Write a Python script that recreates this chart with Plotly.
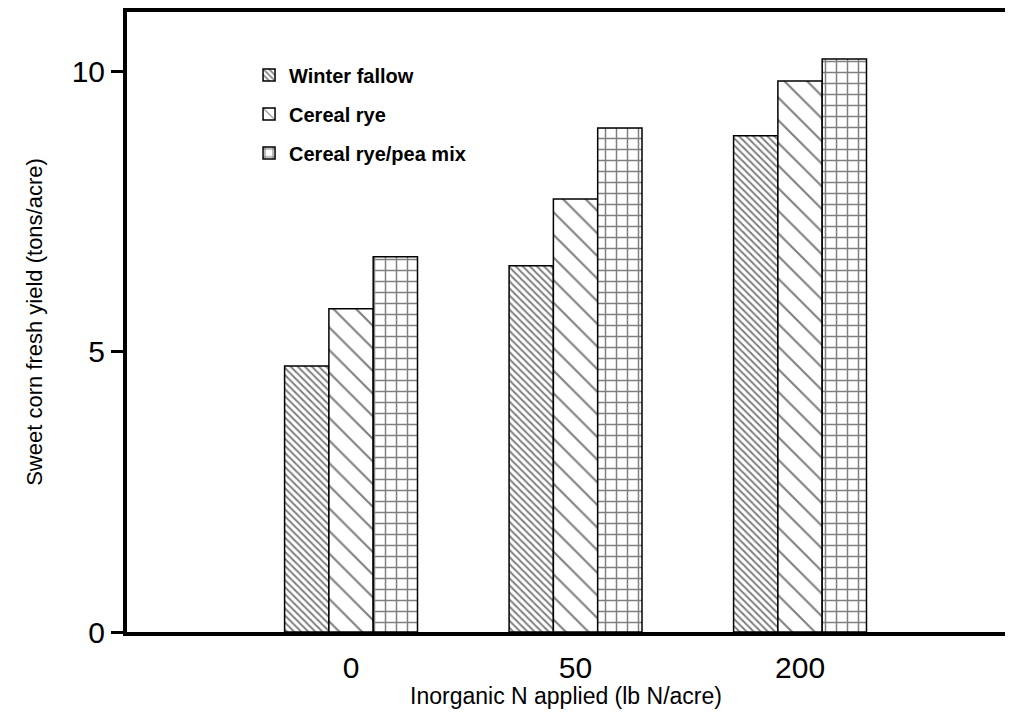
import plotly.graph_objects as go

categories = ["0", "50", "200"]
series_names = ["Winter fallow", "Cereal rye", "Cereal rye/pea mix"]
winter_fallow = [4.75, 6.54, 8.86]
cereal_rye = [5.77, 7.73, 9.84]
rye_pea_mix = [6.70, 9.00, 10.23]
y_ticks = [0, 5, 10]

values = [winter_fallow, cereal_rye, rye_pea_mix]
patterns = [dict(shape="\\", size=5, solidity=0.4),
            dict(shape="\\", size=16, solidity=0.13),
            dict(shape="+", size=11, solidity=0.25)]

fig = go.Figure()
for i, (name, vals, pat) in enumerate(zip(series_names, values, patterns)):
    fig.add_trace(go.Bar(
        x=categories, y=vals, name=name, legendgroup=f"g{i}",
        marker=dict(color="white", line=dict(color="black", width=1.5),
                    pattern=dict(shape=pat["shape"], size=pat["size"], solidity=pat["solidity"],
                                 fgcolor="black", bgcolor="white", fillmode="overlay")),
    ))

font_family = "Liberation Sans, Arial, sans-serif"
fig.update_layout(
    width=997, height=701,
    margin=dict(l=119, r=0, t=4, b=77),
    paper_bgcolor="white", plot_bgcolor="white",
    barmode="group", bargap=0.408, bargroupgap=0,
    font=dict(family=font_family, color="black"),
    showlegend=True,
    legend=dict(x=0.139, y=0.93, xanchor="left", yanchor="top",
                font=dict(size=20, family=font_family, weight="bold"),
                tracegroupgap=10, bgcolor="rgba(0,0,0,0)"),
    xaxis=dict(type="category", range=[-0.998, 2.913], showgrid=False,
               showline=True, linewidth=4, linecolor="black", mirror=True,
               ticks="", tickfont=dict(size=30), ticklabelstandoff=6,
               title=dict(text="Inorganic N applied (lb N/acre)", font=dict(size=23), standoff=0)),
    yaxis=dict(range=[0, 11.07], tickvals=y_ticks, ticktext=[str(v) for v in y_ticks],
               showgrid=False, zeroline=False, showline=True, linewidth=4, linecolor="black",
               ticks="outside", ticklen=12, tickwidth=3, tickcolor="black",
               tickfont=dict(size=30),
               title=dict(text="Sweet corn fresh yield (tons/acre)", font=dict(size=22), standoff=24)),
)

fig.write_html("out.html")
